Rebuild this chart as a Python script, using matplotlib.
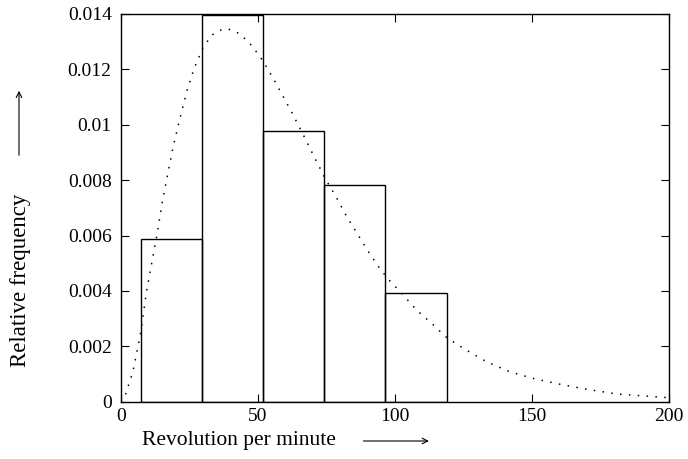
import numpy as np
import matplotlib.pyplot as plt

#===========================
# DATA
#===========================
edges = [7.5, 29.8, 52.0, 74.3, 96.5, 118.8]
heights = [0.00586, 0.01396, 0.00979, 0.00782, 0.00391]

curve_x = [0.0, 1.5, 4.5, 7.3, 9.5, 13.1, 15.3, 19.2, 21.6, 24.3, 26.8, 29.9,
           33.2, 36.5, 39.2, 43.2, 46.9, 50.2, 52.0, 55.6, 59.3, 62.9, 66.6,
           69.0, 74.5, 78.5, 82.1, 86.3, 90.3, 94.4, 97.6, 103.0, 107.9,
           114.0, 118.8, 124.9, 133.4, 141.9, 150.4, 160.2, 169.9, 180.8,
           190.5, 199.0]
curve_y = [0.0, 0.00018, 0.00110, 0.00250, 0.00403, 0.00596, 0.00728, 0.00924,
           0.01023, 0.01128, 0.01204, 0.01276, 0.01324, 0.01342, 0.01346,
           0.01330, 0.01296, 0.01254, 0.01228, 0.01168, 0.01101, 0.01035,
           0.00963, 0.00915, 0.00807, 0.00740, 0.00674, 0.00606, 0.00542,
           0.00482, 0.00442, 0.00385, 0.00331, 0.00277, 0.00232, 0.00193,
           0.00144, 0.00108, 0.00084, 0.00063, 0.00045, 0.00028, 0.00021,
           0.00015]

xticks = [0, 50, 100, 150, 200]
yticks = [0, 0.002, 0.004, 0.006, 0.008, 0.01, 0.012, 0.014]
ytick_labels = ['0', '0.002', '0.004', '0.006', '0.008', '0.01', '0.012', '0.014']

#===========================
# PLOT
#===========================
plt.rcParams['font.family'] = ['Liberation Serif', 'DejaVu Serif']

fig = plt.figure(figsize=(6.88, 4.59), dpi=100)
ax = fig.add_axes([0.1754, 0.1248, 0.7974, 0.8447])

lefts = edges[:-1]
widths = np.diff(edges)
ax.bar(lefts, heights, width=widths, align='edge', facecolor='none',
       edgecolor='black', linewidth=1.0)
ax.plot(curve_x, curve_y, color='black', linewidth=1.1, dashes=(1.0, 4.8))

ax.set_xlim(0, 200)
ax.set_ylim(0, 0.014)
ax.set_xticks(xticks)
ax.set_xticklabels([str(t) for t in xticks], fontsize=14)
ax.set_yticks(yticks)
ax.set_yticklabels(ytick_labels, fontsize=14)
ax.tick_params(direction='in', length=6, width=0.8, top=True, right=True)
ax.tick_params(axis='x', pad=4.5)
ax.tick_params(axis='y', pad=6.5)
for s in ax.spines.values():
    s.set_linewidth(1.0)

# axis labels with arrows
fig.text(141.7/688, 1-441/459, 'Revolution per minute', fontsize=15.5,
         ha='left', va='center')
fig.text(21/688, 1-280/459, 'Relative frequency', fontsize=16.5,
         rotation=90, ha='center', va='center')
ax.annotate('', xy=(431.7/688, 1-441/459), xytext=(360.7/688, 1-441/459),
            xycoords='figure fraction',
            arrowprops=dict(arrowstyle='->', lw=0.8, color='black'))
ax.annotate('', xy=(19/688, 1-88/459), xytext=(19/688, 1-158/459),
            xycoords='figure fraction',
            arrowprops=dict(arrowstyle='->', lw=0.8, color='black'))

fig.savefig('out.png', dpi=100)
